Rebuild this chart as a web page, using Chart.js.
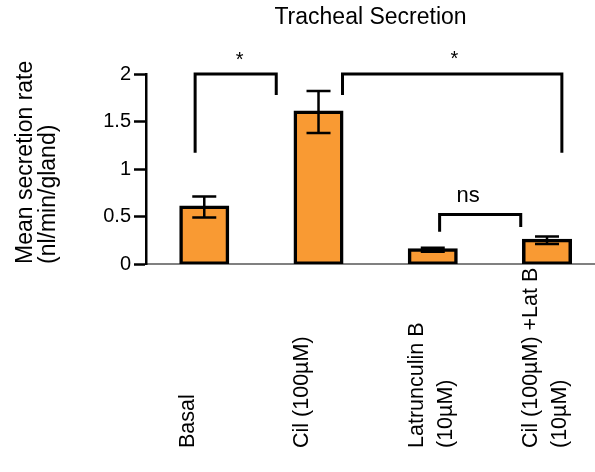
<!DOCTYPE html>
<html>
<head>
<meta charset="utf-8">
<script src="https://cdn.jsdelivr.net/npm/chart.js@4/dist/chart.umd.min.js"></script>
<style>
  body { margin: 0; background: #fff; }
</style>
</head>
<body>
<canvas id="secretionChart" width="595" height="472"></canvas>
<script>
const categories = [['Basal'], ['Cil (100µM)'], ['Latrunculin B', '(10µM)'], ['Cil (100µM) +Lat B', '(10µM)']];
const means = [0.6, 1.6, 0.15, 0.25];
const errors = [0.11, 0.22, 0.02, 0.04];
const yTicks = [0, 0.5, 1, 1.5, 2];

// significance brackets, in axis units
const bracketBasalCil = [{ x: -0.08, y: 1.17 }, { x: -0.08, y: 2 }, { x: 0.63, y: 2 }, { x: 0.63, y: 1.78 }];
const bracketCilCombo = [{ x: 1.21, y: 1.78 }, { x: 1.21, y: 2 }, { x: 3.13, y: 2 }, { x: 3.13, y: 1.17 }];
const bracketLatCombo = [{ x: 2.06, y: 0.34 }, { x: 2.06, y: 0.52 }, { x: 2.77, y: 0.52 }, { x: 2.77, y: 0.39 }];
const marks = ['*', '*', 'ns'];
const markX = [0.31, 2.19, 2.31];
const markY = [2.08, 2.1, 0.65];

const FONT = 'Liberation Sans, Arial, sans-serif';

const errorBars = {
    id: 'errorBars',
    afterDatasetsDraw(chart) {
        const { ctx, scales: { x, y } } = chart;
        ctx.save();
        ctx.strokeStyle = '#000';
        ctx.lineWidth = 2.5;
        means.forEach((m, i) => {
            const px = x.getPixelForValue(i);
            const top = y.getPixelForValue(m + errors[i]);
            const bot = y.getPixelForValue(m - errors[i]);
            ctx.beginPath();
            ctx.moveTo(px, top); ctx.lineTo(px, bot);
            ctx.moveTo(px - 12, top); ctx.lineTo(px + 12, top);
            ctx.moveTo(px - 12, bot); ctx.lineTo(px + 12, bot);
            ctx.stroke();
        });
        ctx.restore();
    }
};

const textBits = {
    id: 'textBits',
    afterDraw(chart) {
        const { ctx, scales: { x, y } } = chart;
        ctx.save();
        ctx.fillStyle = '#000';
        // significance labels
        marks.forEach((t, i) => {
            ctx.font = (t === '*' ? '20px ' : '22px ') + FONT;
            ctx.textAlign = 'center';
            ctx.textBaseline = 'alphabetic';
            ctx.fillText(t, x.getPixelForValue(markX[i]), y.getPixelForValue(markY[i]));
        });
        // category labels, rotated, reading upward from the bottom
        ctx.font = '21.5px ' + FONT;
        ctx.textAlign = 'left';
        ctx.textBaseline = 'middle';
        categories.forEach((lines, i) => {
            const px = x.getPixelForValue(i) - 16;
            lines.forEach((line, j) => {
                ctx.save();
                ctx.translate(px + j * 29, 448);
                ctx.rotate(-Math.PI / 2);
                ctx.fillText(line, 0, 0);
                ctx.restore();
            });
        });
        ctx.restore();
    }
};

const bracket = (data) => ({
    type: 'line',
    data: data,
    borderColor: '#000',
    borderWidth: 3,
    pointRadius: 0,
    tension: 0,
    fill: false,
    clip: false
});

new Chart(document.getElementById('secretionChart'), {
    type: 'bar',
    data: {
        datasets: [
            {
                data: means.map((m, i) => ({ x: i, y: m })),
                backgroundColor: '#f99a33',
                borderColor: '#000',
                borderWidth: 3.5,
                borderSkipped: false,
                inflateAmount: 1.5,
                barThickness: 47
            },
            bracket(bracketBasalCil),
            bracket(bracketCilCombo),
            bracket(bracketLatCombo)
        ]
    },
    options: {
        responsive: false,
        animation: false,
        layout: { padding: { left: 14, right: 0, top: 0, bottom: 208 } },
        plugins: {
            legend: { display: false },
            tooltip: { enabled: false },
            title: {
                display: true,
                text: 'Tracheal Secretion',
                fullSize: false,
                color: '#000',
                font: { family: FONT, size: 23, weight: 'normal', lineHeight: 1.2 },
                padding: { top: 4, bottom: 42.4 }
            }
        },
        scales: {
            x: {
                type: 'linear',
                offset: false,
                min: -0.51,
                max: 3.42,
                grid: { display: false, drawTicks: false, offset: false },
                border: { display: true, color: '#808080', width: 2 },
                ticks: { display: false },
                afterBuildTicks: s => { s.ticks = means.map((_, i) => ({ value: i })); }
            },
            y: {
                min: 0,
                max: 2,
                afterBuildTicks: s => { s.ticks = yTicks.map(v => ({ value: v })); },
                afterFit: s => { s.width = 132; },
                grid: { drawOnChartArea: false, drawTicks: true, tickLength: 12, tickWidth: 2.5, tickColor: '#000' },
                border: { display: true, color: '#000', width: 2.5 },
                ticks: {
                    color: '#000',
                    padding: 3,
                    font: { family: FONT, size: 20 },
                    callback: v => String(v)
                },
                title: {
                    display: true,
                    text: ['Mean secretion rate', '(nl/min/gland)'],
                    align: 'start',
                    color: '#000',
                    font: { family: FONT, size: 23, lineHeight: 1.0 },
                    padding: { top: 0, bottom: 0 }
                }
            }
        }
    },
    plugins: [errorBars, textBits]
});
</script>
</body>
</html>
